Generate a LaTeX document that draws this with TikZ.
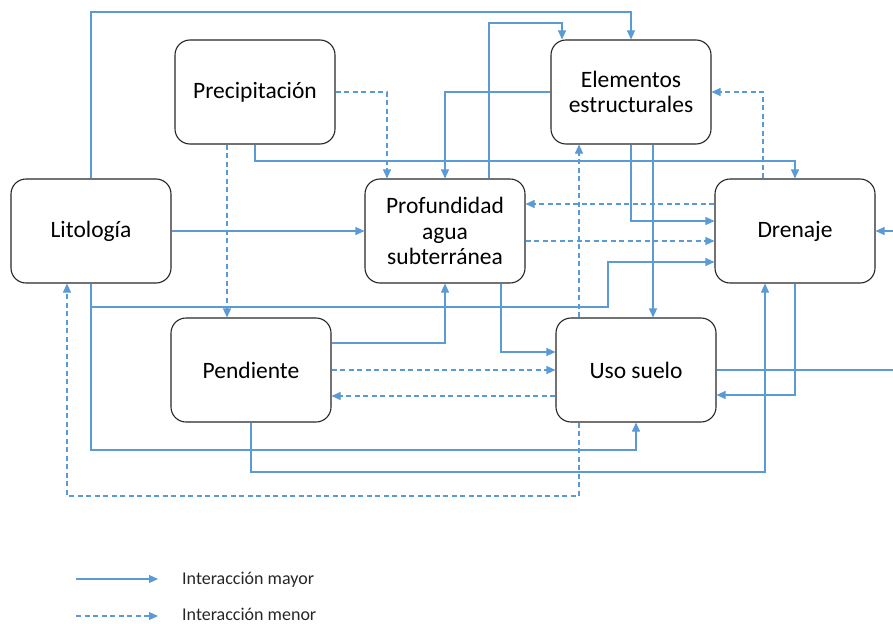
\documentclass[tikz,border=0pt]{standalone}
\usepackage{fontspec}
\setmainfont{Carlito}
\usetikzlibrary{arrows.meta}
\definecolor{azul}{RGB}{91,155,213}

\begin{document}
\begin{tikzpicture}[x=1pt, y=-1pt,
    caja/.style={rectangle, rounded corners=15pt, draw=black!85, line width=1.1pt,
      minimum width=160pt, minimum height=104pt, align=center, text=black,
      font=\fontsize{23.5}{25.5}\selectfont},
    mayor/.style={draw=azul, line width=1.1pt, -{Triangle[length=9pt, width=8pt]}},
    menor/.style={mayor, dash pattern=on 5pt off 3.5pt},
    leyenda/.style={anchor=base west, inner sep=0pt, text=black!85, font=\fontsize{18}{20}\selectfont}]
    \useasboundingbox (0,0) rectangle (893,623);

    % ボックス
    \node[caja] (prec) at (255, 92) {Precipitación};
    \node[caja] (ele)  at (631, 92) {Elementos\\estructurales};
    \node[caja] (lit)  at (91, 231) {Litología};
    \node[caja] (prof) at (445, 231) {Profundidad\\agua\\subterránea};
    \node[caja] (dren) at (795, 231) {Drenaje};
    \node[caja] (pend) at (251, 370) {Pendiente};
    \node[caja] (uso)  at (636, 370) {Uso suelo};

    % 実線の矢印
    \draw[mayor] (lit.north) |- (631,12) -- (ele.north);
    \draw[mayor] ([xshift=44pt]prof.north) |- (562,23) -- ([xshift=-69pt]ele.north);
    \draw[mayor] (ele.west) -| (prof.north);
    \draw[mayor] (prec.south) -- (255,161) -| (dren.north);
    \draw[mayor] (lit.east) -- (prof.west);
    \draw[mayor] (lit.south) |- (608,307) |- ([yshift=-31pt]dren.west);
    \draw[mayor] (lit.south) |- (636,450) -- (uso.south);
    \draw[mayor] (ele.south) |- ([yshift=10pt]dren.west);
    \draw[mayor] ([xshift=22pt]ele.south) -- ([xshift=17pt]uso.north);
    \draw[mayor] (uso.east) -- (900,370) |- (dren.east); % 右端で切れる
    \draw[mayor] (dren.south) |- ([yshift=-25pt]uso.east);
    \draw[mayor] (pend.south) |- (765,472) -- ([xshift=-30pt]dren.south);
    \draw[mayor] ([yshift=27pt]pend.east) -| (prof.south);
    \draw[mayor] ([xshift=56pt]prof.south) |- ([yshift=18pt]uso.west);

    % 破線の矢印
    \draw[menor] (prec.east) -| ([xshift=-58pt]prof.north);
    \draw[menor] ([xshift=-28pt]prec.south) -- ([xshift=-24pt]pend.north);
    \draw[menor] ([xshift=-57pt]uso.north) -- ([xshift=-52pt]ele.south);
    \draw[menor] ([xshift=-57pt]uso.south) |- (67,496) -- ([xshift=-24pt]lit.south);
    \draw[menor] ([yshift=27pt]dren.west) -- ([yshift=27pt]prof.east);
    \draw[menor] ([yshift=-10pt]prof.east) -- ([yshift=-10pt]dren.west);
    \draw[menor] ([xshift=-32pt]dren.north) |- (ele.east);
    \draw[menor] (pend.east) -- (uso.west);
    \draw[menor] ([yshift=-26pt]uso.west) -- ([yshift=-26pt]pend.east);

    % 凡例
    \coordinate (may0) at (76, 579);
    \coordinate (may1) at (158, 579);
    \coordinate (men0) at (76, 616);
    \coordinate (men1) at (158, 616);
    \draw[mayor] (may0) -- (may1);
    \draw[menor] (men0) -- (men1);
    \node[leyenda] (maytxt) at (182, 584) {Interacción mayor};
    \node[leyenda] (mentxt) at (182, 620) {Interacción menor};
\end{tikzpicture}
\end{document}
